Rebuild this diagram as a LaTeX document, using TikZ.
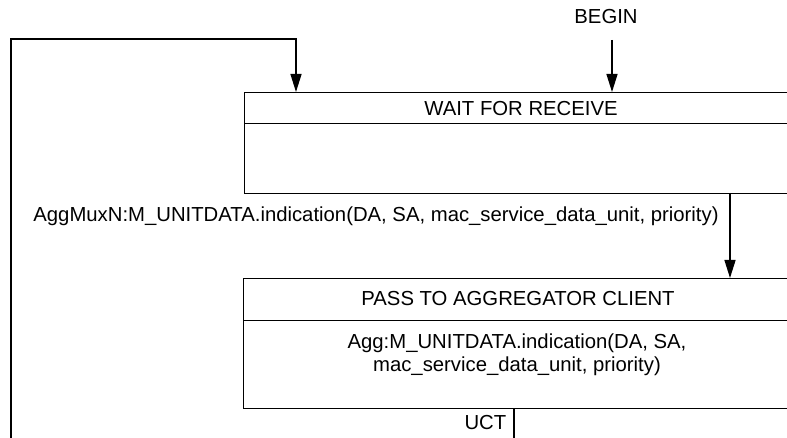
\documentclass[tikz,border=0pt]{standalone}
\usepackage{fontspec}
\setmainfont{Liberation Sans}
\usetikzlibrary{arrows.meta,calc}
\begin{document}
\begin{tikzpicture}[x=1pt,y=-1pt,line width=1.4pt,
  box/.style={draw,rectangle,anchor=north west,inner sep=0pt,minimum width=570pt},
  txt/.style={font=\fontsize{20.3}{22.5}\selectfont,inner sep=0pt},
  flow/.style={-{Triangle[length=18pt,width=11pt]}}]
\useasboundingbox (0,0) rectangle (787,438);
\clip (0,0) rectangle (787,438);
% state WAIT FOR RECEIVE
\node[box,minimum height=31pt] (head1) at (244,92) {};
\node[box,minimum height=70pt] (body1) at (244,123) {};
\node[txt] (t1) at (521,109) {WAIT FOR RECEIVE};
% state PASS TO AGGREGATOR CLIENT
\node[box,minimum height=42pt] (head2) at (243,278) {};
\node[box,minimum height=88pt] (body2) at (243,320) {};
\node[txt] (t2) at (518,299) {PASS TO AGGREGATOR CLIENT};
\node[txt,align=center] (act2) at (517,355) {Agg:M\_UNITDATA.indication(DA, SA,\\mac\_service\_data\_unit, priority)};
% entry
\node[txt] (begin) at (606,17) {BEGIN};
\coordinate (b1) at (612,40);
\coordinate (in1) at (612,92);
\draw[flow] (b1) -- (in1);
% loop back
\coordinate (l0) at (11,438);
\coordinate (in2) at (296,92);
\draw[flow] (l0) |- (296,39) -- (in2);
% transition
\node[txt] (cond) at (376,216) {AggMuxN:M\_UNITDATA.indication(DA, SA, mac\_service\_data\_unit, priority)};
\coordinate (o1) at (730,193);
\coordinate (in3) at (730,278);
\draw[flow] (o1) -- (in3);
% unconditional exit
\node[txt,anchor=east] (uct) at (507,423) {UCT};
\coordinate (o2) at (514,408);
\coordinate (o3) at (514,438);
\draw (o2) -- (o3);
\end{tikzpicture}
\end{document}
